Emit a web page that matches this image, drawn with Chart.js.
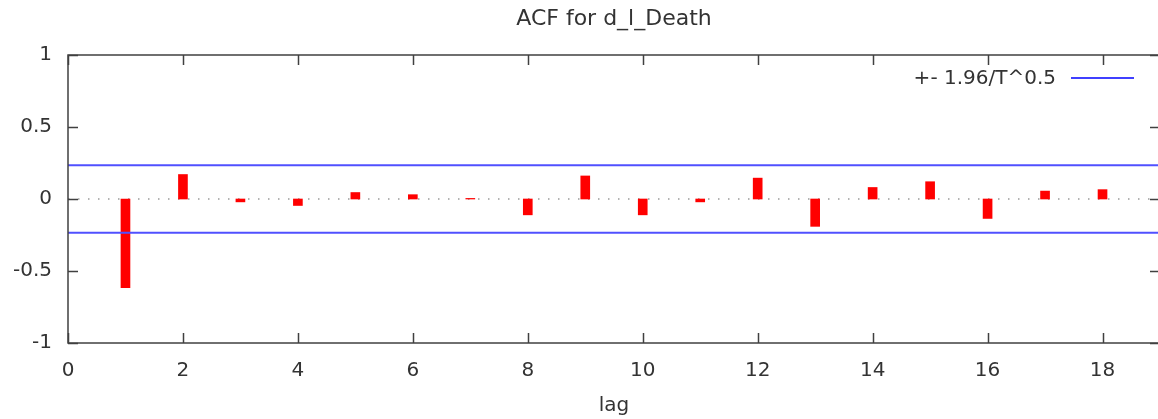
<!DOCTYPE html>
<html lang="en">
<head>
<meta charset="UTF-8">
<title>ACF for d_l_Death</title>
<script src="https://cdn.jsdelivr.net/npm/chart.js"></script>
<style>
  html, body { margin: 0; padding: 0; background: #fff; overflow: hidden; }
  #wrap { width: 1164px; height: 419px; }
</style>
</head>
<body>
<div id="wrap"><canvas id="acf"></canvas></div>
<script>
// data
const lags = [1, 2, 3, 4, 5, 6, 7, 8, 9, 10, 11, 12, 13, 14, 15, 16, 17, 18];
const acfValues = [-0.615, 0.17, -0.02, -0.045, 0.045, 0.03, 0.004, -0.11, 0.16, -0.11, -0.02, 0.145, -0.19, 0.08, 0.12, -0.135, 0.055, 0.065];
const bandValue = 0.234;          // 1.96/T^0.5
const bandLabel = '+- 1.96/T^0.5';
const xRange = [0, 19];
const xLastTick = 18;
const yRange = [-1, 1];

const FONT = "'DejaVu Sans', Verdana, sans-serif";
const TEXT = '#333333';
const AXIS = '#404040';

const barData = lags.map((l, i) => ({ x: l, y: acfValues[i] }));
const line = v => [{ x: xRange[0], y: v }, { x: xRange[1], y: v }];

// box round the plot, ticks pointing in, and the key in the top right corner
const framePlugin = {
  id: 'frame',
  afterLayout(chart) {
    // centre the title over the plot, not the whole canvas
    if (chart.titleBlock) {
      chart.titleBlock.left = chart.chartArea.left;
      chart.titleBlock.right = chart.chartArea.right;
    }
  },
  afterDatasetsDraw(chart) {
    const { ctx, chartArea: a, scales: { x, y } } = chart;
    ctx.save();
    ctx.strokeStyle = AXIS;
    ctx.lineWidth = 1.5;
    ctx.strokeRect(a.left, a.top, a.right - a.left, a.bottom - a.top);
    ctx.beginPath();
    x.ticks.forEach(t => {
      const px = Math.round(x.getPixelForValue(t.value)) + 0.5;
      ctx.moveTo(px, a.bottom); ctx.lineTo(px, a.bottom - 10);
      ctx.moveTo(px, a.top); ctx.lineTo(px, a.top + 10);
    });
    y.ticks.forEach(t => {
      const py = Math.round(y.getPixelForValue(t.value)) + 0.5;
      ctx.moveTo(a.left, py); ctx.lineTo(a.left + 10, py);
      ctx.moveTo(a.right, py); ctx.lineTo(a.right - 10, py);
    });
    ctx.stroke();

    // key
    const ly = a.top + 23;
    const lineEnd = a.right - 26;
    const lineStart = lineEnd - 63;
    ctx.strokeStyle = '#0000ff';
    ctx.lineWidth = 1.5;
    ctx.beginPath();
    ctx.moveTo(lineStart, ly); ctx.lineTo(lineEnd, ly);
    ctx.stroke();
    ctx.fillStyle = TEXT;
    ctx.font = '20px ' + FONT;
    ctx.textAlign = 'right';
    ctx.textBaseline = 'middle';
    ctx.fillText(bandLabel, lineStart - 15, ly + 1);
    ctx.restore();
  }
};

new Chart(document.getElementById('acf'), {
  type: 'bar',
  data: {
    datasets: [
      {
        type: 'line',
        label: 'zero',
        data: line(0),
        borderColor: '#9a9a9a',
        borderWidth: 1.5,
        borderDash: [1.5, 8.5],
        pointRadius: 0,
        order: 3
      },
      {
        label: 'ACF',
        data: barData,
        backgroundColor: '#ff0000',
        borderWidth: 0,
        barThickness: 9,
        order: 2
      },
      {
        type: 'line',
        label: bandLabel,
        data: line(bandValue),
        borderColor: 'rgb(80,80,255)',
        borderWidth: 2,
        pointRadius: 0,
        order: 1
      },
      {
        type: 'line',
        label: bandLabel + ' (lower)',
        data: line(-bandValue),
        borderColor: 'rgb(80,80,255)',
        borderWidth: 2,
        pointRadius: 0,
        order: 1
      }
    ]
  },
  options: {
    responsive: true,
    maintainAspectRatio: false,
    animation: false,
    events: [],
    layout: { padding: { left: 0, right: 4, top: 0, bottom: 0 } },
    plugins: {
      legend: { display: false },
      tooltip: { enabled: false },
      title: {
        display: true,
        text: 'ACF for d_l_Death',
        color: TEXT,
        font: { family: FONT, size: 22, weight: 'normal' },
        padding: { top: 6, bottom: 22.6 }
      }
    },
    scales: {
      x: {
        type: 'linear',
        min: xRange[0],
        max: xRange[1],
        offset: false,
        grid: { display: false, drawTicks: false },
        border: { display: false },
        afterBuildTicks(scale) {
          scale.ticks = scale.ticks.filter(t => t.value <= xLastTick);
        },
        ticks: {
          stepSize: 2,
          padding: 16,
          color: TEXT,
          font: { family: FONT, size: 20 },
          maxRotation: 0
        },
        title: {
          display: true,
          text: 'lag',
          color: TEXT,
          font: { family: FONT, size: 20 },
          padding: { top: 0, bottom: 1 }
        },
        afterFit(scale) { scale.height = 76; }
      },
      y: {
        min: yRange[0],
        max: yRange[1],
        grid: { display: false, drawTicks: false },
        border: { display: false },
        ticks: {
          stepSize: 0.5,
          padding: 16,
          color: TEXT,
          font: { family: FONT, size: 20 },
          callback: v => String(v)
        },
        afterFit(scale) { scale.width = 68; }
      }
    }
  },
  plugins: [framePlugin]
});
</script>
</body>
</html>
